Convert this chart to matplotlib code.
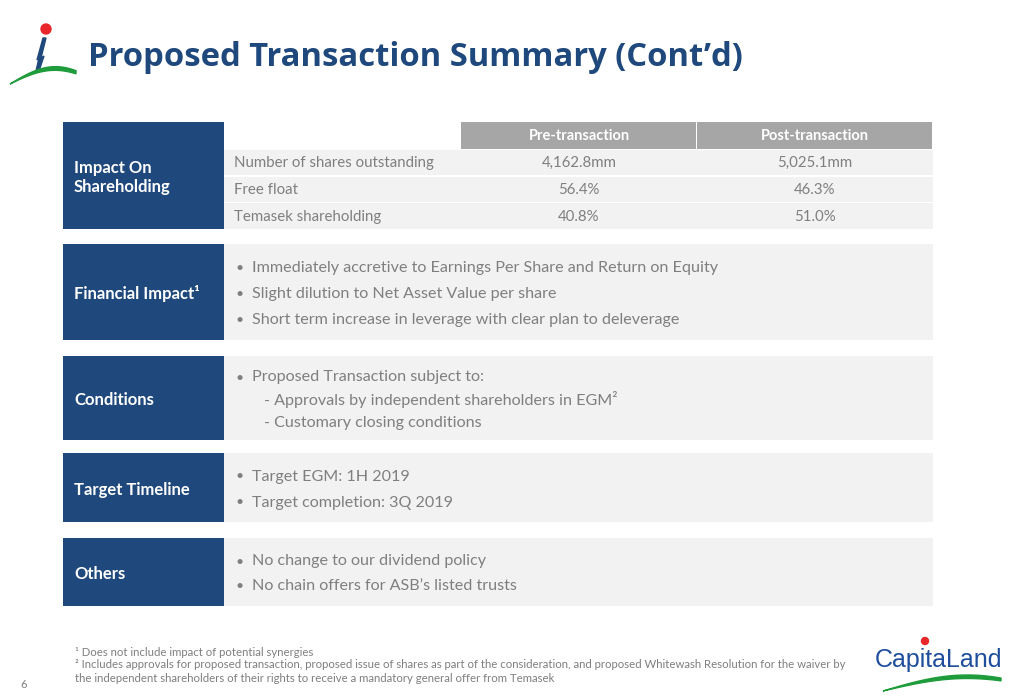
import numpy as np
import matplotlib
matplotlib.use("Agg")
import matplotlib.pyplot as plt
from matplotlib.patches import Rectangle, Circle, Polygon

plt.rcParams['font.family'] = ['Lato', 'DejaVu Sans']

# ---- slide content ----
title = "Proposed Transaction Summary (Cont\u2019d)"

table_cols = ["Pre-transaction", "Post-transaction"]
table_rows = ["Number of shares outstanding", "Free float", "Temasek shareholding"]
pre_values = ["4,162.8mm", "56.4%", "40.8%"]
post_values = ["5,025.1mm", "46.3%", "51.0%"]

section_labels = ["Impact On\nShareholding", "Financial Impact\u00b9", "Conditions",
                  "Target Timeline", "Others"]
financial_items = ["Immediately accretive to Earnings Per Share and Return on Equity",
                   "Slight dilution to Net Asset Value per share",
                   "Short term increase in leverage with clear plan to deleverage"]
conditions_items = ["Proposed Transaction subject to:",
                    "Approvals by independent shareholders in EGM\u00b2",
                    "Customary closing conditions"]
conditions_levels = [0, 1, 1]
timeline_items = ["Target EGM: 1H 2019", "Target completion: 3Q 2019"]
others_items = ["No change to our dividend policy",
                "No chain offers for ASB\u2019s listed trusts"]

footnotes = ["\u00b9 Does not include impact of potential synergies",
             "\u00b2 Includes approvals for proposed transaction, proposed issue of shares as part of the consideration, and proposed Whitewash Resolution for the waiver by",
             "the independent shareholders of their rights to receive a mandatory general offer from Temasek"]
page_number = "6"

# ---- layout (pixels) ----
navy = "#1F487C"
grey_text = "#7F7F7F"
panel_bg = "#F2F2F2"
header_bg = "#A6A6A6"
left_x0, left_x1 = 63, 224
right_x1 = 933
box_spans = [(122, 229), (244, 340), (356, 440), (453, 522), (538, 606)]

fig = plt.figure(figsize=(10.12, 7.0), dpi=100)
ax = fig.add_axes([0, 0, 1, 1])
ax.set_xlim(0, 1012)
ax.set_ylim(700, 0)
ax.axis("off")

# title
ax.text(88, 57, title, fontsize=23.6, fontweight="bold", color=navy, va="center", ha="left",
        family=["Open Sans", "DejaVu Sans"])

# top-left logo
ax.add_patch(Circle((46, 29), 5, color="#E8262B"))
ax.add_patch(Polygon([(43, 38), (46, 38), (41, 58), (44, 56), (39, 71), (36, 71), (39, 58), (37, 60)],
                     closed=True, color=navy))
t = np.linspace(0, 1, 40)
xa = 10 + 66 * t
top = 84 - 16 * np.sin(np.pi * t * 0.75) - 2 * t
bot = 84 - 13 * np.sin(np.pi * t * 0.75) - 1 * t
ax.add_patch(Polygon(np.column_stack([np.r_[xa, xa[::-1]], np.r_[top, bot[::-1]]]),
                     closed=True, color="#1E9B3A"))

# left labels + grey panels
for (y0, y1), label in zip(box_spans, section_labels):
    ax.add_patch(Rectangle((left_x0, y0), left_x1 - left_x0, y1 - y0, color=navy, lw=0))
    ax.text(74, (y0 + y1) / 2 + 2, label, color="white", fontsize=12, fontweight="bold",
            va="center", ha="left", linespacing=1.3)

# table
col_edges = [224, 461, 697, 933]
header_y0, header_y1 = 122, 149
row_h = (229 - header_y1) / len(table_rows)
for i in range(2):
    ax.add_patch(Rectangle((col_edges[i + 1], header_y0), col_edges[i + 2] - col_edges[i + 1] - 1,
                           header_y1 - header_y0, color=header_bg, lw=0))
    ax.text((col_edges[i + 1] + col_edges[i + 2]) / 2, (header_y0 + header_y1) / 2 + 1, table_cols[i],
            color="white", fontsize=10.5, fontweight="bold", ha="center", va="center")
for r, (name, pre, post) in enumerate(zip(table_rows, pre_values, post_values)):
    y0 = header_y1 + 1 + r * row_h
    ax.add_patch(Rectangle((col_edges[0], y0), col_edges[-1] - col_edges[0], row_h - 1.5,
                           color=panel_bg, lw=0))
    yc = y0 + row_h / 2
    ax.text(234, yc, name, color=grey_text, fontsize=10.8, va="center", ha="left")
    ax.text((col_edges[1] + col_edges[2]) / 2, yc, pre, color=grey_text, fontsize=10.8,
            va="center", ha="center")
    ax.text((col_edges[2] + col_edges[3]) / 2, yc, post, color=grey_text, fontsize=10.8,
            va="center", ha="center")

# bullet panels
bullet_sections = [(financial_items, [0] * 3, 26), (conditions_items, conditions_levels, 22.5),
                   (timeline_items, [0] * 2, 26), (others_items, [0] * 2, 25)]
for (y0, y1), (items, levels, step) in zip(box_spans[1:], bullet_sections):
    ax.add_patch(Rectangle((left_x1, y0), right_x1 - left_x1, y1 - y0, color=panel_bg, lw=0))
    yc = (y0 + y1) / 2 + 2
    n = len(items)
    for k, (item, lev) in enumerate(zip(items, levels)):
        y = yc + (k - (n - 1) / 2) * step
        if lev == 0:
            ax.text(236, y, "\u2022", color=grey_text, fontsize=10, va="center", ha="left")
            ax.text(252, y, item, color=grey_text, fontsize=11.6, va="center", ha="left")
        else:
            ax.text(264, y, "- " + item, color=grey_text, fontsize=11.6, va="center", ha="left")

# footnotes
for k, line in enumerate(footnotes):
    ax.text(75, 652 + k * 13, line, color=grey_text, fontsize=8.2, va="center", ha="left")
ax.text(20, 684, page_number, color=grey_text, fontsize=8, va="center", ha="left")

# CapitaLand logo
ax.text(939, 660, "CapitaLand", color="#1F4E9C", fontsize=18, va="center", ha="center",
        family=["Liberation Sans Narrow", "Liberation Sans"])
ax.add_patch(Circle((925, 641), 3.5, color="#E8262B"))
xb = 883 + 118 * t
topb = 691 - 16 * np.sin(np.pi * t * 0.7)
botb = 691 - 12.5 * np.sin(np.pi * t * 0.7)
ax.add_patch(Polygon(np.column_stack([np.r_[xb, xb[::-1]], np.r_[topb, botb[::-1]]]),
                     closed=True, color="#1E9B3A"))

fig.savefig("out.png", dpi=100, facecolor="white")
